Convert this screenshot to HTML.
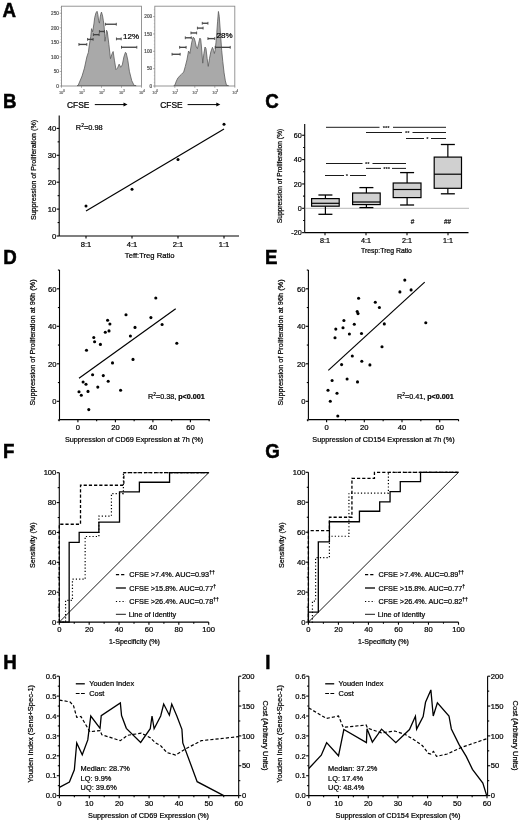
<!DOCTYPE html>
<html><head><meta charset="utf-8"><title>Figure</title>
<style>
html,body{margin:0;padding:0;background:#fff;}
body{width:520px;height:821px;overflow:hidden;}
svg{display:block;font-family:"Liberation Sans", sans-serif;will-change:transform;}
</style></head><body>
<svg width="520" height="821" viewBox="0 0 520 821">
<rect width="520" height="821" fill="#fff"/>
<text x="2.5" y="15.79" font-size="18.7" text-anchor="start" font-weight="bold" fill="#000" transform="translate(0 0) scale(1 1.07)" stroke="#000" stroke-width="0.5">A</text>
<text x="2.95" y="100.75" font-size="18.7" text-anchor="start" font-weight="bold" fill="#000" transform="translate(0 0) scale(1 1.07)" stroke="#000" stroke-width="0.5">B</text>
<text x="265.25" y="100.84" font-size="18.7" text-anchor="start" font-weight="bold" fill="#000" transform="translate(0 0) scale(1 1.07)" stroke="#000" stroke-width="0.5">C</text>
<text x="3.2" y="246.54" font-size="18.7" text-anchor="start" font-weight="bold" fill="#000" transform="translate(0 0) scale(1 1.07)" stroke="#000" stroke-width="0.5">D</text>
<text x="265" y="246.54" font-size="18.7" text-anchor="start" font-weight="bold" fill="#000" transform="translate(0 0) scale(1 1.07)" stroke="#000" stroke-width="0.5">E</text>
<text x="2.95" y="428.41" font-size="18.7" text-anchor="start" font-weight="bold" fill="#000" transform="translate(0 0) scale(1 1.07)" stroke="#000" stroke-width="0.5">F</text>
<text x="265.25" y="428.41" font-size="18.7" text-anchor="start" font-weight="bold" fill="#000" transform="translate(0 0) scale(1 1.07)" stroke="#000" stroke-width="0.5">G</text>
<text x="3.2" y="625.14" font-size="18.7" text-anchor="start" font-weight="bold" fill="#000" transform="translate(0 0) scale(1 1.07)" stroke="#000" stroke-width="0.5">H</text>
<text x="265.2" y="625.14" font-size="18.7" text-anchor="start" font-weight="bold" fill="#000" transform="translate(0 0) scale(1 1.07)" stroke="#000" stroke-width="0.5">I</text>
<rect x="61.5" y="6.2" width="80" height="79.8" fill="#fff" stroke="#8a8a8a" stroke-width="0.9"/>
<polygon points="77.14,85.6 78.14,85.43 82.08,75.97 84.44,68.08 86.81,57.04 88.39,52.31 89.18,46 90.75,36.54 91.54,28.66 92.64,31.81 93.91,23.92 94.69,17.62 95.96,12.89 97.06,11.31 97.85,14.46 98.64,20.77 99.43,23.14 100.37,16.04 100.69,14.46 101.48,12.1 102.58,16.04 103.37,20.77 104.16,27.08 104.95,41.27 105.73,36.54 106.52,30.23 107.31,31.81 108.89,44.43 110.47,58.62 112.04,53.89 113.15,51.52 114.41,60.2 115.98,69.66 117.56,68.08 119.14,64.14 120.72,67.29 122.29,64.93 123.87,57.04 125.45,52.31 126.24,53.1 127.81,60.2 129.39,71.24 131.76,80.7 134.12,85.43 136.12,85.6" fill="#a9a9a9" stroke="#5a5a5a" stroke-width="0.8" stroke-linejoin="miter"/>
<line x1="59.7" y1="86" x2="61.5" y2="86" stroke="#777" stroke-width="0.6"/>
<text x="58.9" y="87.7" font-size="4.7" text-anchor="end" font-weight="normal" fill="#555" transform="translate(0 0) scale(1 1)" stroke="#555" stroke-width="0.22">0</text>
<line x1="60.5" y1="83.09" x2="61.5" y2="83.09" stroke="#999" stroke-width="0.5"/>
<line x1="60.5" y1="80.18" x2="61.5" y2="80.18" stroke="#999" stroke-width="0.5"/>
<line x1="60.5" y1="77.27" x2="61.5" y2="77.27" stroke="#999" stroke-width="0.5"/>
<line x1="60.5" y1="74.36" x2="61.5" y2="74.36" stroke="#999" stroke-width="0.5"/>
<line x1="59.7" y1="71.45" x2="61.5" y2="71.45" stroke="#777" stroke-width="0.6"/>
<text x="58.9" y="73.15" font-size="4.7" text-anchor="end" font-weight="normal" fill="#555" transform="translate(0 0) scale(1 1)" stroke="#555" stroke-width="0.22">50</text>
<line x1="60.5" y1="68.54" x2="61.5" y2="68.54" stroke="#999" stroke-width="0.5"/>
<line x1="60.5" y1="65.63" x2="61.5" y2="65.63" stroke="#999" stroke-width="0.5"/>
<line x1="60.5" y1="62.72" x2="61.5" y2="62.72" stroke="#999" stroke-width="0.5"/>
<line x1="60.5" y1="59.81" x2="61.5" y2="59.81" stroke="#999" stroke-width="0.5"/>
<line x1="59.7" y1="56.9" x2="61.5" y2="56.9" stroke="#777" stroke-width="0.6"/>
<text x="58.9" y="58.6" font-size="4.7" text-anchor="end" font-weight="normal" fill="#555" transform="translate(0 0) scale(1 1)" stroke="#555" stroke-width="0.22">100</text>
<line x1="60.5" y1="53.99" x2="61.5" y2="53.99" stroke="#999" stroke-width="0.5"/>
<line x1="60.5" y1="51.08" x2="61.5" y2="51.08" stroke="#999" stroke-width="0.5"/>
<line x1="60.5" y1="48.17" x2="61.5" y2="48.17" stroke="#999" stroke-width="0.5"/>
<line x1="60.5" y1="45.26" x2="61.5" y2="45.26" stroke="#999" stroke-width="0.5"/>
<line x1="59.7" y1="42.35" x2="61.5" y2="42.35" stroke="#777" stroke-width="0.6"/>
<text x="58.9" y="44.05" font-size="4.7" text-anchor="end" font-weight="normal" fill="#555" transform="translate(0 0) scale(1 1)" stroke="#555" stroke-width="0.22">150</text>
<line x1="60.5" y1="39.44" x2="61.5" y2="39.44" stroke="#999" stroke-width="0.5"/>
<line x1="60.5" y1="36.53" x2="61.5" y2="36.53" stroke="#999" stroke-width="0.5"/>
<line x1="60.5" y1="33.62" x2="61.5" y2="33.62" stroke="#999" stroke-width="0.5"/>
<line x1="60.5" y1="30.71" x2="61.5" y2="30.71" stroke="#999" stroke-width="0.5"/>
<line x1="59.7" y1="27.8" x2="61.5" y2="27.8" stroke="#777" stroke-width="0.6"/>
<text x="58.9" y="29.5" font-size="4.7" text-anchor="end" font-weight="normal" fill="#555" transform="translate(0 0) scale(1 1)" stroke="#555" stroke-width="0.22">200</text>
<line x1="60.5" y1="24.89" x2="61.5" y2="24.89" stroke="#999" stroke-width="0.5"/>
<line x1="60.5" y1="21.98" x2="61.5" y2="21.98" stroke="#999" stroke-width="0.5"/>
<line x1="60.5" y1="19.07" x2="61.5" y2="19.07" stroke="#999" stroke-width="0.5"/>
<line x1="60.5" y1="16.16" x2="61.5" y2="16.16" stroke="#999" stroke-width="0.5"/>
<line x1="59.7" y1="13.25" x2="61.5" y2="13.25" stroke="#777" stroke-width="0.6"/>
<text x="58.9" y="14.95" font-size="4.7" text-anchor="end" font-weight="normal" fill="#555" transform="translate(0 0) scale(1 1)" stroke="#555" stroke-width="0.22">250</text>
<line x1="60.5" y1="10.34" x2="61.5" y2="10.34" stroke="#999" stroke-width="0.5"/>
<line x1="60.5" y1="7.43" x2="61.5" y2="7.43" stroke="#999" stroke-width="0.5"/>
<line x1="61.5" y1="86" x2="61.5" y2="87.8" stroke="#777" stroke-width="0.6"/>
<text x="58.9" y="93.6" font-size="4" text-anchor="start" font-weight="normal" fill="#777" transform="translate(0 0) scale(1 1)" stroke="#777" stroke-width="0.22">10</text>
<text x="63.2" y="91.9" font-size="2.8" text-anchor="start" font-weight="normal" fill="#777" transform="translate(0 0) scale(1 1)" stroke="#777" stroke-width="0.22">0</text>
<line x1="81.5" y1="86" x2="81.5" y2="87.8" stroke="#777" stroke-width="0.6"/>
<text x="78.9" y="93.6" font-size="4" text-anchor="start" font-weight="normal" fill="#777" transform="translate(0 0) scale(1 1)" stroke="#777" stroke-width="0.22">10</text>
<text x="83.2" y="91.9" font-size="2.8" text-anchor="start" font-weight="normal" fill="#777" transform="translate(0 0) scale(1 1)" stroke="#777" stroke-width="0.22">1</text>
<line x1="101.5" y1="86" x2="101.5" y2="87.8" stroke="#777" stroke-width="0.6"/>
<text x="98.9" y="93.6" font-size="4" text-anchor="start" font-weight="normal" fill="#777" transform="translate(0 0) scale(1 1)" stroke="#777" stroke-width="0.22">10</text>
<text x="103.2" y="91.9" font-size="2.8" text-anchor="start" font-weight="normal" fill="#777" transform="translate(0 0) scale(1 1)" stroke="#777" stroke-width="0.22">2</text>
<line x1="121.5" y1="86" x2="121.5" y2="87.8" stroke="#777" stroke-width="0.6"/>
<text x="118.9" y="93.6" font-size="4" text-anchor="start" font-weight="normal" fill="#777" transform="translate(0 0) scale(1 1)" stroke="#777" stroke-width="0.22">10</text>
<text x="123.2" y="91.9" font-size="2.8" text-anchor="start" font-weight="normal" fill="#777" transform="translate(0 0) scale(1 1)" stroke="#777" stroke-width="0.22">3</text>
<line x1="141.5" y1="86" x2="141.5" y2="87.8" stroke="#777" stroke-width="0.6"/>
<text x="138.9" y="93.6" font-size="4" text-anchor="start" font-weight="normal" fill="#777" transform="translate(0 0) scale(1 1)" stroke="#777" stroke-width="0.22">10</text>
<text x="143.2" y="91.9" font-size="2.8" text-anchor="start" font-weight="normal" fill="#777" transform="translate(0 0) scale(1 1)" stroke="#777" stroke-width="0.22">4</text>
<line x1="78.92" y1="44.43" x2="86.81" y2="44.43" stroke="#444" stroke-width="1.35"/>
<line x1="78.92" y1="43.03" x2="78.92" y2="45.83" stroke="#444" stroke-width="0.9"/>
<line x1="86.81" y1="43.03" x2="86.81" y2="45.83" stroke="#444" stroke-width="0.9"/>
<line x1="87.6" y1="39.38" x2="93.12" y2="39.38" stroke="#444" stroke-width="1.35"/>
<line x1="87.6" y1="37.98" x2="87.6" y2="40.78" stroke="#444" stroke-width="0.9"/>
<line x1="93.12" y1="37.98" x2="93.12" y2="40.78" stroke="#444" stroke-width="0.9"/>
<line x1="93.43" y1="34.65" x2="99.11" y2="34.65" stroke="#444" stroke-width="1.35"/>
<line x1="93.43" y1="33.25" x2="93.43" y2="36.05" stroke="#444" stroke-width="0.9"/>
<line x1="99.11" y1="33.25" x2="99.11" y2="36.05" stroke="#444" stroke-width="0.9"/>
<line x1="99.43" y1="31.49" x2="104.47" y2="31.49" stroke="#444" stroke-width="1.35"/>
<line x1="99.43" y1="30.09" x2="99.43" y2="32.89" stroke="#444" stroke-width="0.9"/>
<line x1="104.47" y1="30.09" x2="104.47" y2="32.89" stroke="#444" stroke-width="0.9"/>
<line x1="105.42" y1="24.24" x2="116.3" y2="24.24" stroke="#444" stroke-width="1.35"/>
<line x1="105.42" y1="22.84" x2="105.42" y2="25.64" stroke="#444" stroke-width="0.9"/>
<line x1="116.3" y1="22.84" x2="116.3" y2="25.64" stroke="#444" stroke-width="0.9"/>
<line x1="116.46" y1="38.91" x2="121.19" y2="38.91" stroke="#444" stroke-width="1.35"/>
<line x1="116.46" y1="37.51" x2="116.46" y2="40.31" stroke="#444" stroke-width="0.9"/>
<line x1="121.19" y1="37.51" x2="121.19" y2="40.31" stroke="#444" stroke-width="0.9"/>
<line x1="121.5" y1="47.26" x2="136.8" y2="47.26" stroke="#444" stroke-width="1.35"/>
<line x1="121.5" y1="45.86" x2="121.5" y2="48.66" stroke="#444" stroke-width="0.9"/>
<line x1="136.8" y1="45.86" x2="136.8" y2="48.66" stroke="#444" stroke-width="0.9"/>
<text x="123.1" y="38.6" font-size="8" text-anchor="start" font-weight="normal" fill="#000" transform="translate(0 0) scale(1 1)" stroke="#000" stroke-width="0.22">12%</text>
<rect x="154.8" y="6.2" width="80" height="79.8" fill="#fff" stroke="#8a8a8a" stroke-width="0.9"/>
<polygon points="173.81,85.6 174.81,85.29 176.42,80.93 178.04,77.7 181.27,74.47 183.69,72.04 185.31,66.39 186.93,59.93 188.54,51.04 189.83,53.47 190.96,47 191.77,42.16 193.06,37.31 194.2,38.12 195.33,42.16 196.3,47 197.43,48.62 198.56,43.77 199.85,38.12 200.66,38.93 201.47,47 202.76,63.16 203.89,53.47 205.02,47 205.99,48.62 207.12,58.31 208.25,66.39 209.54,58.31 210.84,51.85 212.45,47.33 213.58,50.23 214.39,53.47 215.2,50.23 216,42.16 216.81,32.46 217.62,21.16 218.43,11.46 219.24,16.31 220.53,34.08 221.66,50.23 222.79,61.54 224.08,72.85 225.37,80.93 226.51,85.29 228.51,85.6" fill="#a9a9a9" stroke="#5a5a5a" stroke-width="0.8" stroke-linejoin="miter"/>
<line x1="153" y1="86" x2="154.8" y2="86" stroke="#777" stroke-width="0.6"/>
<text x="152.2" y="87.7" font-size="4.7" text-anchor="end" font-weight="normal" fill="#555" transform="translate(0 0) scale(1 1)" stroke="#555" stroke-width="0.22">0</text>
<line x1="153.8" y1="82.53" x2="154.8" y2="82.53" stroke="#999" stroke-width="0.5"/>
<line x1="153.8" y1="79.06" x2="154.8" y2="79.06" stroke="#999" stroke-width="0.5"/>
<line x1="153.8" y1="75.59" x2="154.8" y2="75.59" stroke="#999" stroke-width="0.5"/>
<line x1="153.8" y1="72.12" x2="154.8" y2="72.12" stroke="#999" stroke-width="0.5"/>
<line x1="153" y1="68.65" x2="154.8" y2="68.65" stroke="#777" stroke-width="0.6"/>
<text x="152.2" y="70.35" font-size="4.7" text-anchor="end" font-weight="normal" fill="#555" transform="translate(0 0) scale(1 1)" stroke="#555" stroke-width="0.22">50</text>
<line x1="153.8" y1="65.18" x2="154.8" y2="65.18" stroke="#999" stroke-width="0.5"/>
<line x1="153.8" y1="61.71" x2="154.8" y2="61.71" stroke="#999" stroke-width="0.5"/>
<line x1="153.8" y1="58.24" x2="154.8" y2="58.24" stroke="#999" stroke-width="0.5"/>
<line x1="153.8" y1="54.77" x2="154.8" y2="54.77" stroke="#999" stroke-width="0.5"/>
<line x1="153" y1="51.3" x2="154.8" y2="51.3" stroke="#777" stroke-width="0.6"/>
<text x="152.2" y="53" font-size="4.7" text-anchor="end" font-weight="normal" fill="#555" transform="translate(0 0) scale(1 1)" stroke="#555" stroke-width="0.22">100</text>
<line x1="153.8" y1="47.83" x2="154.8" y2="47.83" stroke="#999" stroke-width="0.5"/>
<line x1="153.8" y1="44.36" x2="154.8" y2="44.36" stroke="#999" stroke-width="0.5"/>
<line x1="153.8" y1="40.89" x2="154.8" y2="40.89" stroke="#999" stroke-width="0.5"/>
<line x1="153.8" y1="37.42" x2="154.8" y2="37.42" stroke="#999" stroke-width="0.5"/>
<line x1="153" y1="33.95" x2="154.8" y2="33.95" stroke="#777" stroke-width="0.6"/>
<text x="152.2" y="35.65" font-size="4.7" text-anchor="end" font-weight="normal" fill="#555" transform="translate(0 0) scale(1 1)" stroke="#555" stroke-width="0.22">150</text>
<line x1="153.8" y1="30.48" x2="154.8" y2="30.48" stroke="#999" stroke-width="0.5"/>
<line x1="153.8" y1="27.01" x2="154.8" y2="27.01" stroke="#999" stroke-width="0.5"/>
<line x1="153.8" y1="23.54" x2="154.8" y2="23.54" stroke="#999" stroke-width="0.5"/>
<line x1="153.8" y1="20.07" x2="154.8" y2="20.07" stroke="#999" stroke-width="0.5"/>
<line x1="153" y1="16.6" x2="154.8" y2="16.6" stroke="#777" stroke-width="0.6"/>
<text x="152.2" y="18.3" font-size="4.7" text-anchor="end" font-weight="normal" fill="#555" transform="translate(0 0) scale(1 1)" stroke="#555" stroke-width="0.22">200</text>
<line x1="153.8" y1="13.13" x2="154.8" y2="13.13" stroke="#999" stroke-width="0.5"/>
<line x1="153.8" y1="9.66" x2="154.8" y2="9.66" stroke="#999" stroke-width="0.5"/>
<line x1="154.8" y1="86" x2="154.8" y2="87.8" stroke="#777" stroke-width="0.6"/>
<text x="152.2" y="93.6" font-size="4" text-anchor="start" font-weight="normal" fill="#777" transform="translate(0 0) scale(1 1)" stroke="#777" stroke-width="0.22">10</text>
<text x="156.5" y="91.9" font-size="2.8" text-anchor="start" font-weight="normal" fill="#777" transform="translate(0 0) scale(1 1)" stroke="#777" stroke-width="0.22">0</text>
<line x1="174.8" y1="86" x2="174.8" y2="87.8" stroke="#777" stroke-width="0.6"/>
<text x="172.2" y="93.6" font-size="4" text-anchor="start" font-weight="normal" fill="#777" transform="translate(0 0) scale(1 1)" stroke="#777" stroke-width="0.22">10</text>
<text x="176.5" y="91.9" font-size="2.8" text-anchor="start" font-weight="normal" fill="#777" transform="translate(0 0) scale(1 1)" stroke="#777" stroke-width="0.22">1</text>
<line x1="194.8" y1="86" x2="194.8" y2="87.8" stroke="#777" stroke-width="0.6"/>
<text x="192.2" y="93.6" font-size="4" text-anchor="start" font-weight="normal" fill="#777" transform="translate(0 0) scale(1 1)" stroke="#777" stroke-width="0.22">10</text>
<text x="196.5" y="91.9" font-size="2.8" text-anchor="start" font-weight="normal" fill="#777" transform="translate(0 0) scale(1 1)" stroke="#777" stroke-width="0.22">2</text>
<line x1="214.8" y1="86" x2="214.8" y2="87.8" stroke="#777" stroke-width="0.6"/>
<text x="212.2" y="93.6" font-size="4" text-anchor="start" font-weight="normal" fill="#777" transform="translate(0 0) scale(1 1)" stroke="#777" stroke-width="0.22">10</text>
<text x="216.5" y="91.9" font-size="2.8" text-anchor="start" font-weight="normal" fill="#777" transform="translate(0 0) scale(1 1)" stroke="#777" stroke-width="0.22">3</text>
<line x1="234.8" y1="86" x2="234.8" y2="87.8" stroke="#777" stroke-width="0.6"/>
<text x="232.2" y="93.6" font-size="4" text-anchor="start" font-weight="normal" fill="#777" transform="translate(0 0) scale(1 1)" stroke="#777" stroke-width="0.22">10</text>
<text x="236.5" y="91.9" font-size="2.8" text-anchor="start" font-weight="normal" fill="#777" transform="translate(0 0) scale(1 1)" stroke="#777" stroke-width="0.22">4</text>
<line x1="172.06" y1="54.27" x2="180.14" y2="54.27" stroke="#444" stroke-width="1.35"/>
<line x1="172.06" y1="52.87" x2="172.06" y2="55.67" stroke="#444" stroke-width="0.9"/>
<line x1="180.14" y1="52.87" x2="180.14" y2="55.67" stroke="#444" stroke-width="0.9"/>
<line x1="179.66" y1="47.33" x2="186.12" y2="47.33" stroke="#444" stroke-width="1.35"/>
<line x1="179.66" y1="45.93" x2="179.66" y2="48.73" stroke="#444" stroke-width="0.9"/>
<line x1="186.12" y1="45.93" x2="186.12" y2="48.73" stroke="#444" stroke-width="0.9"/>
<line x1="185.31" y1="37.79" x2="191.29" y2="37.79" stroke="#444" stroke-width="1.35"/>
<line x1="185.31" y1="36.39" x2="185.31" y2="39.19" stroke="#444" stroke-width="0.9"/>
<line x1="191.29" y1="36.39" x2="191.29" y2="39.19" stroke="#444" stroke-width="0.9"/>
<line x1="190.96" y1="32.95" x2="196.62" y2="32.95" stroke="#444" stroke-width="1.35"/>
<line x1="190.96" y1="31.55" x2="190.96" y2="34.35" stroke="#444" stroke-width="0.9"/>
<line x1="196.62" y1="31.55" x2="196.62" y2="34.35" stroke="#444" stroke-width="0.9"/>
<line x1="197.43" y1="28.1" x2="203.08" y2="28.1" stroke="#444" stroke-width="1.35"/>
<line x1="197.43" y1="26.7" x2="197.43" y2="29.5" stroke="#444" stroke-width="0.9"/>
<line x1="203.08" y1="26.7" x2="203.08" y2="29.5" stroke="#444" stroke-width="0.9"/>
<line x1="202.27" y1="23.26" x2="207.93" y2="23.26" stroke="#444" stroke-width="1.35"/>
<line x1="202.27" y1="21.86" x2="202.27" y2="24.66" stroke="#444" stroke-width="0.9"/>
<line x1="207.93" y1="21.86" x2="207.93" y2="24.66" stroke="#444" stroke-width="0.9"/>
<line x1="207.93" y1="38.6" x2="214.71" y2="38.6" stroke="#444" stroke-width="1.35"/>
<line x1="207.93" y1="37.2" x2="207.93" y2="40" stroke="#444" stroke-width="0.9"/>
<line x1="214.71" y1="37.2" x2="214.71" y2="40" stroke="#444" stroke-width="0.9"/>
<line x1="215.2" y1="47.33" x2="230.22" y2="47.33" stroke="#444" stroke-width="1.35"/>
<line x1="215.2" y1="45.93" x2="215.2" y2="48.73" stroke="#444" stroke-width="0.9"/>
<line x1="230.22" y1="45.93" x2="230.22" y2="48.73" stroke="#444" stroke-width="0.9"/>
<text x="216.5" y="38.4" font-size="8" text-anchor="start" font-weight="normal" fill="#000" transform="translate(0 0) scale(1 1)" stroke="#000" stroke-width="0.22">28%</text>
<text x="67" y="96.43" font-size="8.4" text-anchor="start" font-weight="normal" fill="#000" transform="translate(0 0) scale(1 1.12)" stroke="#000" stroke-width="0.22">CFSE</text>
<line x1="94.8" y1="104.6" x2="124.5" y2="104.6" stroke="#000" stroke-width="1"/>
<polygon points="123.5,102.6 127.5,104.6 123.5,106.6" fill="#000" stroke="none" stroke-width="0" stroke-linejoin="miter"/>
<text x="160.3" y="96.43" font-size="8.4" text-anchor="start" font-weight="normal" fill="#000" transform="translate(0 0) scale(1 1.12)" stroke="#000" stroke-width="0.22">CFSE</text>
<line x1="187.6" y1="104.6" x2="217.3" y2="104.6" stroke="#000" stroke-width="1"/>
<polygon points="216.3,102.6 220.3,104.6 216.3,106.6" fill="#000" stroke="none" stroke-width="0" stroke-linejoin="miter"/>
<line x1="59.2" y1="115.5" x2="59.2" y2="236" stroke="#000" stroke-width="1.1"/>
<line x1="59.2" y1="236" x2="56.6" y2="236" stroke="#000" stroke-width="1.1"/>
<text x="56.2" y="238.7" font-size="7.6" text-anchor="end" font-weight="normal" fill="#000" transform="translate(0 0) scale(1 1)" stroke="#000" stroke-width="0.22">0</text>
<line x1="59.2" y1="209.1" x2="56.6" y2="209.1" stroke="#000" stroke-width="1.1"/>
<text x="56.2" y="211.8" font-size="7.6" text-anchor="end" font-weight="normal" fill="#000" transform="translate(0 0) scale(1 1)" stroke="#000" stroke-width="0.22">10</text>
<line x1="59.2" y1="182.2" x2="56.6" y2="182.2" stroke="#000" stroke-width="1.1"/>
<text x="56.2" y="184.9" font-size="7.6" text-anchor="end" font-weight="normal" fill="#000" transform="translate(0 0) scale(1 1)" stroke="#000" stroke-width="0.22">20</text>
<line x1="59.2" y1="155.3" x2="56.6" y2="155.3" stroke="#000" stroke-width="1.1"/>
<text x="56.2" y="158" font-size="7.6" text-anchor="end" font-weight="normal" fill="#000" transform="translate(0 0) scale(1 1)" stroke="#000" stroke-width="0.22">30</text>
<line x1="59.2" y1="128.4" x2="56.6" y2="128.4" stroke="#000" stroke-width="1.1"/>
<text x="56.2" y="131.1" font-size="7.6" text-anchor="end" font-weight="normal" fill="#000" transform="translate(0 0) scale(1 1)" stroke="#000" stroke-width="0.22">40</text>
<line x1="59.2" y1="222.55" x2="57.6" y2="222.55" stroke="#000" stroke-width="1.1"/>
<line x1="59.2" y1="195.65" x2="57.6" y2="195.65" stroke="#000" stroke-width="1.1"/>
<line x1="59.2" y1="168.75" x2="57.6" y2="168.75" stroke="#000" stroke-width="1.1"/>
<line x1="59.2" y1="141.85" x2="57.6" y2="141.85" stroke="#000" stroke-width="1.1"/>
<line x1="59.2" y1="236" x2="239" y2="236" stroke="#000" stroke-width="1.1"/>
<line x1="86" y1="236" x2="86" y2="238.6" stroke="#000" stroke-width="1.1"/>
<text x="86" y="247.3" font-size="7.6" text-anchor="middle" font-weight="normal" fill="#000" transform="translate(0 0) scale(1 1)" stroke="#000" stroke-width="0.22">8:1</text>
<line x1="132" y1="236" x2="132" y2="238.6" stroke="#000" stroke-width="1.1"/>
<text x="132" y="247.3" font-size="7.6" text-anchor="middle" font-weight="normal" fill="#000" transform="translate(0 0) scale(1 1)" stroke="#000" stroke-width="0.22">4:1</text>
<line x1="178" y1="236" x2="178" y2="238.6" stroke="#000" stroke-width="1.1"/>
<text x="178" y="247.3" font-size="7.6" text-anchor="middle" font-weight="normal" fill="#000" transform="translate(0 0) scale(1 1)" stroke="#000" stroke-width="0.22">2:1</text>
<line x1="224" y1="236" x2="224" y2="238.6" stroke="#000" stroke-width="1.1"/>
<text x="224" y="247.3" font-size="7.6" text-anchor="middle" font-weight="normal" fill="#000" transform="translate(0 0) scale(1 1)" stroke="#000" stroke-width="0.22">1:1</text>
<line x1="86" y1="211" x2="224" y2="129" stroke="#000" stroke-width="1.2"/>
<circle cx="86" cy="206" r="1.5" fill="#000"/>
<circle cx="132" cy="189.2" r="1.5" fill="#000"/>
<circle cx="178" cy="159.6" r="1.5" fill="#000"/>
<circle cx="224" cy="124.2" r="1.5" fill="#000"/>
<text x="75.8" y="130" font-size="7.4" text-anchor="start" font-weight="normal" fill="#000" transform="translate(0 0) scale(1 1)" stroke="#000" stroke-width="0.22">R<tspan font-size="5" dy="-2.6">2</tspan><tspan dy="2.6">=0.98</tspan></text>
<text x="149.7" y="258.2" font-size="7.65" text-anchor="middle" font-weight="normal" fill="#000" transform="translate(0 0) scale(1 1)" stroke="#000" stroke-width="0.22">Teff:Treg Ratio</text>
<text x="0" y="0" font-size="7.1" text-anchor="middle" font-weight="normal" fill="#000" transform="translate(36 170) rotate(-90) scale(1 1)" stroke="#000" stroke-width="0.22">Suppression of Proliferation (%)</text>
<line x1="304.7" y1="124.1" x2="304.7" y2="232.6" stroke="#000" stroke-width="1.1"/>
<line x1="304.7" y1="232.65" x2="302.1" y2="232.65" stroke="#000" stroke-width="1.1"/>
<text x="301.7" y="235.35" font-size="7.2" text-anchor="end" font-weight="normal" fill="#000" transform="translate(0 0) scale(1 1)" stroke="#000" stroke-width="0.22">-20</text>
<line x1="304.7" y1="208.3" x2="302.1" y2="208.3" stroke="#000" stroke-width="1.1"/>
<text x="301.7" y="211" font-size="7.2" text-anchor="end" font-weight="normal" fill="#000" transform="translate(0 0) scale(1 1)" stroke="#000" stroke-width="0.22">0</text>
<line x1="304.7" y1="183.95" x2="302.1" y2="183.95" stroke="#000" stroke-width="1.1"/>
<text x="301.7" y="186.65" font-size="7.2" text-anchor="end" font-weight="normal" fill="#000" transform="translate(0 0) scale(1 1)" stroke="#000" stroke-width="0.22">20</text>
<line x1="304.7" y1="159.6" x2="302.1" y2="159.6" stroke="#000" stroke-width="1.1"/>
<text x="301.7" y="162.3" font-size="7.2" text-anchor="end" font-weight="normal" fill="#000" transform="translate(0 0) scale(1 1)" stroke="#000" stroke-width="0.22">40</text>
<line x1="304.7" y1="135.25" x2="302.1" y2="135.25" stroke="#000" stroke-width="1.1"/>
<text x="301.7" y="137.95" font-size="7.2" text-anchor="end" font-weight="normal" fill="#000" transform="translate(0 0) scale(1 1)" stroke="#000" stroke-width="0.22">60</text>
<line x1="304.7" y1="220.48" x2="303.1" y2="220.48" stroke="#000" stroke-width="1.1"/>
<line x1="304.7" y1="196.12" x2="303.1" y2="196.12" stroke="#000" stroke-width="1.1"/>
<line x1="304.7" y1="171.78" x2="303.1" y2="171.78" stroke="#000" stroke-width="1.1"/>
<line x1="304.7" y1="147.43" x2="303.1" y2="147.43" stroke="#000" stroke-width="1.1"/>
<line x1="304.7" y1="208.3" x2="469" y2="208.3" stroke="#999" stroke-width="0.7"/>
<line x1="304.7" y1="232.6" x2="468.5" y2="232.6" stroke="#000" stroke-width="1.1"/>
<line x1="325" y1="232.6" x2="325" y2="235.2" stroke="#000" stroke-width="1.1"/>
<text x="325" y="242.6" font-size="7.2" text-anchor="middle" font-weight="normal" fill="#000" transform="translate(0 0) scale(1 1)" stroke="#000" stroke-width="0.22">8:1</text>
<line x1="366" y1="232.6" x2="366" y2="235.2" stroke="#000" stroke-width="1.1"/>
<text x="366" y="242.6" font-size="7.2" text-anchor="middle" font-weight="normal" fill="#000" transform="translate(0 0) scale(1 1)" stroke="#000" stroke-width="0.22">4:1</text>
<line x1="407" y1="232.6" x2="407" y2="235.2" stroke="#000" stroke-width="1.1"/>
<text x="407" y="242.6" font-size="7.2" text-anchor="middle" font-weight="normal" fill="#000" transform="translate(0 0) scale(1 1)" stroke="#000" stroke-width="0.22">2:1</text>
<line x1="448" y1="232.6" x2="448" y2="235.2" stroke="#000" stroke-width="1.1"/>
<text x="448" y="242.6" font-size="7.2" text-anchor="middle" font-weight="normal" fill="#000" transform="translate(0 0) scale(1 1)" stroke="#000" stroke-width="0.22">1:1</text>
<line x1="325.4" y1="195" x2="325.4" y2="198.6" stroke="#000" stroke-width="1.2"/>
<line x1="325.4" y1="206.2" x2="325.4" y2="214.3" stroke="#000" stroke-width="1.2"/>
<line x1="318.4" y1="195" x2="332.4" y2="195" stroke="#000" stroke-width="1.3"/>
<line x1="318.4" y1="214.3" x2="332.4" y2="214.3" stroke="#000" stroke-width="1.3"/>
<rect x="311.6" y="198.6" width="27.6" height="7.6" fill="#d0d0d0" stroke="#000" stroke-width="1.2"/>
<line x1="311.6" y1="203.3" x2="339.2" y2="203.3" stroke="#000" stroke-width="1.2"/>
<line x1="366.4" y1="187.6" x2="366.4" y2="193" stroke="#000" stroke-width="1.2"/>
<line x1="366.4" y1="204.6" x2="366.4" y2="207.6" stroke="#000" stroke-width="1.2"/>
<line x1="359.4" y1="187.6" x2="373.4" y2="187.6" stroke="#000" stroke-width="1.3"/>
<line x1="359.4" y1="207.6" x2="373.4" y2="207.6" stroke="#000" stroke-width="1.3"/>
<rect x="352.6" y="193" width="27.6" height="11.6" fill="#d0d0d0" stroke="#000" stroke-width="1.2"/>
<line x1="352.6" y1="202" x2="380.2" y2="202" stroke="#000" stroke-width="1.2"/>
<line x1="407.1" y1="172.6" x2="407.1" y2="183" stroke="#000" stroke-width="1.2"/>
<line x1="407.1" y1="197.6" x2="407.1" y2="205" stroke="#000" stroke-width="1.2"/>
<line x1="400.1" y1="172.6" x2="414.1" y2="172.6" stroke="#000" stroke-width="1.3"/>
<line x1="400.1" y1="205" x2="414.1" y2="205" stroke="#000" stroke-width="1.3"/>
<rect x="393.2" y="183" width="27.8" height="14.6" fill="#d0d0d0" stroke="#000" stroke-width="1.2"/>
<line x1="393.2" y1="189.5" x2="421" y2="189.5" stroke="#000" stroke-width="1.2"/>
<line x1="447.85" y1="144.5" x2="447.85" y2="157.1" stroke="#000" stroke-width="1.2"/>
<line x1="447.85" y1="188.3" x2="447.85" y2="193.8" stroke="#000" stroke-width="1.2"/>
<line x1="440.85" y1="144.5" x2="454.85" y2="144.5" stroke="#000" stroke-width="1.3"/>
<line x1="440.85" y1="193.8" x2="454.85" y2="193.8" stroke="#000" stroke-width="1.3"/>
<rect x="434.2" y="157.1" width="27.3" height="31.2" fill="#d0d0d0" stroke="#000" stroke-width="1.2"/>
<line x1="434.2" y1="174.2" x2="461.5" y2="174.2" stroke="#000" stroke-width="1.2"/>
<line x1="326" y1="127.3" x2="379.5" y2="127.3" stroke="#000" stroke-width="0.9"/>
<line x1="393" y1="127.3" x2="446" y2="127.3" stroke="#000" stroke-width="0.9"/>
<text x="386.2" y="130" font-size="5.9" text-anchor="middle" font-weight="bold" fill="#000" transform="translate(0 0) scale(1 1)">***</text>
<line x1="366" y1="132.5" x2="402" y2="132.5" stroke="#000" stroke-width="0.9"/>
<line x1="412.5" y1="132.5" x2="446" y2="132.5" stroke="#000" stroke-width="0.9"/>
<text x="407.2" y="135.2" font-size="5.9" text-anchor="middle" font-weight="bold" fill="#000" transform="translate(0 0) scale(1 1)">**</text>
<line x1="406" y1="138.5" x2="424" y2="138.5" stroke="#000" stroke-width="0.9"/>
<line x1="431" y1="138.5" x2="446" y2="138.5" stroke="#000" stroke-width="0.9"/>
<text x="427.5" y="141.2" font-size="5.9" text-anchor="middle" font-weight="bold" fill="#000" transform="translate(0 0) scale(1 1)">*</text>
<line x1="326" y1="163.5" x2="362.5" y2="163.5" stroke="#000" stroke-width="0.9"/>
<line x1="372.5" y1="163.5" x2="406" y2="163.5" stroke="#000" stroke-width="0.9"/>
<text x="367.3" y="166.2" font-size="5.9" text-anchor="middle" font-weight="bold" fill="#000" transform="translate(0 0) scale(1 1)">**</text>
<line x1="366" y1="168.4" x2="381" y2="168.4" stroke="#000" stroke-width="0.9"/>
<line x1="392" y1="168.4" x2="406" y2="168.4" stroke="#000" stroke-width="0.9"/>
<text x="386.6" y="171.1" font-size="5.9" text-anchor="middle" font-weight="bold" fill="#000" transform="translate(0 0) scale(1 1)">***</text>
<line x1="325" y1="175.5" x2="344" y2="175.5" stroke="#000" stroke-width="0.9"/>
<line x1="350" y1="175.5" x2="366" y2="175.5" stroke="#000" stroke-width="0.9"/>
<text x="347" y="178.2" font-size="5.9" text-anchor="middle" font-weight="bold" fill="#000" transform="translate(0 0) scale(1 1)">*</text>
<text x="412.5" y="223.5" font-size="6.4" text-anchor="middle" font-weight="normal" fill="#222" transform="translate(0 0) scale(1 1)" stroke="#222" stroke-width="0.22">#</text>
<text x="447.5" y="223.5" font-size="6.4" text-anchor="middle" font-weight="normal" fill="#222" transform="translate(0 0) scale(1 1)" stroke="#222" stroke-width="0.22">##</text>
<text x="386.5" y="253" font-size="6.85" text-anchor="middle" font-weight="normal" fill="#000" transform="translate(0 0) scale(1 1)" stroke="#000" stroke-width="0.22">Tresp:Treg Ratio</text>
<text x="0" y="0" font-size="6.7" text-anchor="middle" font-weight="normal" fill="#000" transform="translate(282.2 176.1) rotate(-90) scale(1 1)" stroke="#000" stroke-width="0.22">Suppression of Proliferation (%)</text>
<line x1="59.5" y1="270" x2="59.5" y2="419.6" stroke="#000" stroke-width="1.1"/>
<line x1="59.5" y1="401.3" x2="56.9" y2="401.3" stroke="#000" stroke-width="1.1"/>
<text x="56.5" y="404" font-size="7.6" text-anchor="end" font-weight="normal" fill="#000" transform="translate(0 0) scale(1 1)" stroke="#000" stroke-width="0.22">0</text>
<line x1="59.5" y1="363.8" x2="56.9" y2="363.8" stroke="#000" stroke-width="1.1"/>
<text x="56.5" y="366.5" font-size="7.6" text-anchor="end" font-weight="normal" fill="#000" transform="translate(0 0) scale(1 1)" stroke="#000" stroke-width="0.22">20</text>
<line x1="59.5" y1="326.3" x2="56.9" y2="326.3" stroke="#000" stroke-width="1.1"/>
<text x="56.5" y="329" font-size="7.6" text-anchor="end" font-weight="normal" fill="#000" transform="translate(0 0) scale(1 1)" stroke="#000" stroke-width="0.22">40</text>
<line x1="59.5" y1="288.8" x2="56.9" y2="288.8" stroke="#000" stroke-width="1.1"/>
<text x="56.5" y="291.5" font-size="7.6" text-anchor="end" font-weight="normal" fill="#000" transform="translate(0 0) scale(1 1)" stroke="#000" stroke-width="0.22">60</text>
<line x1="59.5" y1="420.05" x2="57.9" y2="420.05" stroke="#000" stroke-width="1.1"/>
<line x1="59.5" y1="382.55" x2="57.9" y2="382.55" stroke="#000" stroke-width="1.1"/>
<line x1="59.5" y1="345.05" x2="57.9" y2="345.05" stroke="#000" stroke-width="1.1"/>
<line x1="59.5" y1="307.55" x2="57.9" y2="307.55" stroke="#000" stroke-width="1.1"/>
<line x1="59.5" y1="270.05" x2="57.9" y2="270.05" stroke="#000" stroke-width="1.1"/>
<line x1="59.5" y1="419.6" x2="209.8" y2="419.6" stroke="#000" stroke-width="1.1"/>
<line x1="77.9" y1="419.6" x2="77.9" y2="422.2" stroke="#000" stroke-width="1.1"/>
<text x="77.9" y="430.4" font-size="7.6" text-anchor="middle" font-weight="normal" fill="#000" transform="translate(0 0) scale(1 1)" stroke="#000" stroke-width="0.22">0</text>
<line x1="115.4" y1="419.6" x2="115.4" y2="422.2" stroke="#000" stroke-width="1.1"/>
<text x="115.4" y="430.4" font-size="7.6" text-anchor="middle" font-weight="normal" fill="#000" transform="translate(0 0) scale(1 1)" stroke="#000" stroke-width="0.22">20</text>
<line x1="152.9" y1="419.6" x2="152.9" y2="422.2" stroke="#000" stroke-width="1.1"/>
<text x="152.9" y="430.4" font-size="7.6" text-anchor="middle" font-weight="normal" fill="#000" transform="translate(0 0) scale(1 1)" stroke="#000" stroke-width="0.22">40</text>
<line x1="190.4" y1="419.6" x2="190.4" y2="422.2" stroke="#000" stroke-width="1.1"/>
<text x="190.4" y="430.4" font-size="7.6" text-anchor="middle" font-weight="normal" fill="#000" transform="translate(0 0) scale(1 1)" stroke="#000" stroke-width="0.22">60</text>
<line x1="59.15" y1="419.6" x2="59.15" y2="421.2" stroke="#000" stroke-width="1.1"/>
<line x1="96.65" y1="419.6" x2="96.65" y2="421.2" stroke="#000" stroke-width="1.1"/>
<line x1="134.15" y1="419.6" x2="134.15" y2="421.2" stroke="#000" stroke-width="1.1"/>
<line x1="171.65" y1="419.6" x2="171.65" y2="421.2" stroke="#000" stroke-width="1.1"/>
<line x1="209.15" y1="419.6" x2="209.15" y2="421.2" stroke="#000" stroke-width="1.1"/>
<circle cx="155.8" cy="298" r="1.55" fill="#000"/>
<circle cx="126" cy="314.7" r="1.55" fill="#000"/>
<circle cx="150.9" cy="317.6" r="1.55" fill="#000"/>
<circle cx="107.6" cy="320.2" r="1.55" fill="#000"/>
<circle cx="109.9" cy="324" r="1.55" fill="#000"/>
<circle cx="162.1" cy="324.5" r="1.55" fill="#000"/>
<circle cx="135" cy="327.4" r="1.55" fill="#000"/>
<circle cx="105.3" cy="332.3" r="1.55" fill="#000"/>
<circle cx="109" cy="330.9" r="1.55" fill="#000"/>
<circle cx="130.4" cy="336" r="1.55" fill="#000"/>
<circle cx="93.8" cy="337.5" r="1.55" fill="#000"/>
<circle cx="94.6" cy="341.8" r="1.55" fill="#000"/>
<circle cx="100.4" cy="344.4" r="1.55" fill="#000"/>
<circle cx="176.8" cy="343.3" r="1.55" fill="#000"/>
<circle cx="86.5" cy="350.2" r="1.55" fill="#000"/>
<circle cx="133" cy="359.4" r="1.55" fill="#000"/>
<circle cx="112.5" cy="362.9" r="1.55" fill="#000"/>
<circle cx="92.6" cy="374.7" r="1.55" fill="#000"/>
<circle cx="103.3" cy="375.6" r="1.55" fill="#000"/>
<circle cx="83.1" cy="382" r="1.55" fill="#000"/>
<circle cx="86" cy="384.2" r="1.55" fill="#000"/>
<circle cx="108.2" cy="381.3" r="1.55" fill="#000"/>
<circle cx="97.8" cy="387.1" r="1.55" fill="#000"/>
<circle cx="120.6" cy="390.3" r="1.55" fill="#000"/>
<circle cx="79" cy="391.7" r="1.55" fill="#000"/>
<circle cx="88" cy="391.4" r="1.55" fill="#000"/>
<circle cx="81.3" cy="395.2" r="1.55" fill="#000"/>
<circle cx="88.8" cy="409.6" r="1.55" fill="#000"/>
<line x1="79" y1="378.2" x2="175.7" y2="308.7" stroke="#000" stroke-width="1.2"/>
<text x="148" y="398.6" font-size="7.2" text-anchor="start" font-weight="normal" fill="#000" transform="translate(0 0) scale(1 1)" stroke="#000" stroke-width="0.22">R<tspan font-size="5" dy="-2.6">2</tspan><tspan dy="2.6">=0.38, </tspan><tspan font-weight="bold">p&lt;0.001</tspan></text>
<text x="134" y="441.7" font-size="7.25" text-anchor="middle" font-weight="normal" fill="#000" transform="translate(0 0) scale(1 1)" stroke="#000" stroke-width="0.22">Suppression of CD69 Expression at 7h (%)</text>
<text x="0" y="0" font-size="7.35" text-anchor="middle" font-weight="normal" fill="#000" transform="translate(34.8 342.5) rotate(-90) scale(1 1)" stroke="#000" stroke-width="0.22">Suppression of Proliferation at 96h (%)</text>
<line x1="308.4" y1="270" x2="308.4" y2="419.6" stroke="#000" stroke-width="1.1"/>
<line x1="308.4" y1="401.3" x2="305.8" y2="401.3" stroke="#000" stroke-width="1.1"/>
<text x="305.4" y="404" font-size="7.6" text-anchor="end" font-weight="normal" fill="#000" transform="translate(0 0) scale(1 1)" stroke="#000" stroke-width="0.22">0</text>
<line x1="308.4" y1="363.8" x2="305.8" y2="363.8" stroke="#000" stroke-width="1.1"/>
<text x="305.4" y="366.5" font-size="7.6" text-anchor="end" font-weight="normal" fill="#000" transform="translate(0 0) scale(1 1)" stroke="#000" stroke-width="0.22">20</text>
<line x1="308.4" y1="326.3" x2="305.8" y2="326.3" stroke="#000" stroke-width="1.1"/>
<text x="305.4" y="329" font-size="7.6" text-anchor="end" font-weight="normal" fill="#000" transform="translate(0 0) scale(1 1)" stroke="#000" stroke-width="0.22">40</text>
<line x1="308.4" y1="288.8" x2="305.8" y2="288.8" stroke="#000" stroke-width="1.1"/>
<text x="305.4" y="291.5" font-size="7.6" text-anchor="end" font-weight="normal" fill="#000" transform="translate(0 0) scale(1 1)" stroke="#000" stroke-width="0.22">60</text>
<line x1="308.4" y1="420.05" x2="306.8" y2="420.05" stroke="#000" stroke-width="1.1"/>
<line x1="308.4" y1="382.55" x2="306.8" y2="382.55" stroke="#000" stroke-width="1.1"/>
<line x1="308.4" y1="345.05" x2="306.8" y2="345.05" stroke="#000" stroke-width="1.1"/>
<line x1="308.4" y1="307.55" x2="306.8" y2="307.55" stroke="#000" stroke-width="1.1"/>
<line x1="308.4" y1="270.05" x2="306.8" y2="270.05" stroke="#000" stroke-width="1.1"/>
<line x1="308.4" y1="419.6" x2="458.7" y2="419.6" stroke="#000" stroke-width="1.1"/>
<line x1="326.6" y1="419.6" x2="326.6" y2="422.2" stroke="#000" stroke-width="1.1"/>
<text x="326.6" y="430.4" font-size="7.6" text-anchor="middle" font-weight="normal" fill="#000" transform="translate(0 0) scale(1 1)" stroke="#000" stroke-width="0.22">0</text>
<line x1="364.3" y1="419.6" x2="364.3" y2="422.2" stroke="#000" stroke-width="1.1"/>
<text x="364.3" y="430.4" font-size="7.6" text-anchor="middle" font-weight="normal" fill="#000" transform="translate(0 0) scale(1 1)" stroke="#000" stroke-width="0.22">20</text>
<line x1="402" y1="419.6" x2="402" y2="422.2" stroke="#000" stroke-width="1.1"/>
<text x="402" y="430.4" font-size="7.6" text-anchor="middle" font-weight="normal" fill="#000" transform="translate(0 0) scale(1 1)" stroke="#000" stroke-width="0.22">40</text>
<line x1="439.7" y1="419.6" x2="439.7" y2="422.2" stroke="#000" stroke-width="1.1"/>
<text x="439.7" y="430.4" font-size="7.6" text-anchor="middle" font-weight="normal" fill="#000" transform="translate(0 0) scale(1 1)" stroke="#000" stroke-width="0.22">60</text>
<line x1="307.75" y1="419.6" x2="307.75" y2="421.2" stroke="#000" stroke-width="1.1"/>
<line x1="345.45" y1="419.6" x2="345.45" y2="421.2" stroke="#000" stroke-width="1.1"/>
<line x1="383.15" y1="419.6" x2="383.15" y2="421.2" stroke="#000" stroke-width="1.1"/>
<line x1="420.85" y1="419.6" x2="420.85" y2="421.2" stroke="#000" stroke-width="1.1"/>
<line x1="458.55" y1="419.6" x2="458.55" y2="421.2" stroke="#000" stroke-width="1.1"/>
<circle cx="404.8" cy="280.1" r="1.55" fill="#000"/>
<circle cx="411.1" cy="289.9" r="1.55" fill="#000"/>
<circle cx="399.9" cy="291.9" r="1.55" fill="#000"/>
<circle cx="358.6" cy="298.3" r="1.55" fill="#000"/>
<circle cx="375.3" cy="302.3" r="1.55" fill="#000"/>
<circle cx="379.4" cy="307.5" r="1.55" fill="#000"/>
<circle cx="357.2" cy="311.5" r="1.55" fill="#000"/>
<circle cx="358" cy="313.6" r="1.55" fill="#000"/>
<circle cx="343.9" cy="320.5" r="1.55" fill="#000"/>
<circle cx="354.3" cy="324.2" r="1.55" fill="#000"/>
<circle cx="384.3" cy="323.9" r="1.55" fill="#000"/>
<circle cx="425.8" cy="322.8" r="1.55" fill="#000"/>
<circle cx="335.8" cy="329.1" r="1.55" fill="#000"/>
<circle cx="343" cy="327.7" r="1.55" fill="#000"/>
<circle cx="349.4" cy="334" r="1.55" fill="#000"/>
<circle cx="361.5" cy="333.5" r="1.55" fill="#000"/>
<circle cx="335" cy="337.8" r="1.55" fill="#000"/>
<circle cx="382" cy="346.7" r="1.55" fill="#000"/>
<circle cx="352.3" cy="356" r="1.55" fill="#000"/>
<circle cx="341.6" cy="364.6" r="1.55" fill="#000"/>
<circle cx="361.8" cy="361.2" r="1.55" fill="#000"/>
<circle cx="369.9" cy="364.9" r="1.55" fill="#000"/>
<circle cx="332.1" cy="380.5" r="1.55" fill="#000"/>
<circle cx="347.1" cy="379" r="1.55" fill="#000"/>
<circle cx="357.5" cy="381.9" r="1.55" fill="#000"/>
<circle cx="328" cy="390.3" r="1.55" fill="#000"/>
<circle cx="337" cy="393.2" r="1.55" fill="#000"/>
<circle cx="330.3" cy="401.2" r="1.55" fill="#000"/>
<circle cx="337.8" cy="416" r="1.55" fill="#000"/>
<line x1="328.3" y1="370.4" x2="424.7" y2="282.1" stroke="#000" stroke-width="1.2"/>
<text x="397" y="398.6" font-size="7.2" text-anchor="start" font-weight="normal" fill="#000" transform="translate(0 0) scale(1 1)" stroke="#000" stroke-width="0.22">R<tspan font-size="5" dy="-2.6">2</tspan><tspan dy="2.6">=0.41, </tspan><tspan font-weight="bold">p&lt;0.001</tspan></text>
<text x="383.5" y="441.7" font-size="7.25" text-anchor="middle" font-weight="normal" fill="#000" transform="translate(0 0) scale(1 1)" stroke="#000" stroke-width="0.22">Suppression of CD154 Expression at 7h (%)</text>
<text x="0" y="0" font-size="7.35" text-anchor="middle" font-weight="normal" fill="#000" transform="translate(282.6 342.5) rotate(-90) scale(1 1)" stroke="#000" stroke-width="0.22">Suppression of Proliferation at 96h (%)</text>
<line x1="59.3" y1="472.7" x2="59.3" y2="622.1" stroke="#000" stroke-width="1.1"/>
<line x1="59.3" y1="622.1" x2="56.7" y2="622.1" stroke="#000" stroke-width="1.1"/>
<text x="56.3" y="624.8" font-size="7.6" text-anchor="end" font-weight="normal" fill="#000" transform="translate(0 0) scale(1 1)" stroke="#000" stroke-width="0.22">0</text>
<line x1="59.3" y1="592.22" x2="56.7" y2="592.22" stroke="#000" stroke-width="1.1"/>
<text x="56.3" y="594.92" font-size="7.6" text-anchor="end" font-weight="normal" fill="#000" transform="translate(0 0) scale(1 1)" stroke="#000" stroke-width="0.22">20</text>
<line x1="59.3" y1="562.34" x2="56.7" y2="562.34" stroke="#000" stroke-width="1.1"/>
<text x="56.3" y="565.04" font-size="7.6" text-anchor="end" font-weight="normal" fill="#000" transform="translate(0 0) scale(1 1)" stroke="#000" stroke-width="0.22">40</text>
<line x1="59.3" y1="532.46" x2="56.7" y2="532.46" stroke="#000" stroke-width="1.1"/>
<text x="56.3" y="535.16" font-size="7.6" text-anchor="end" font-weight="normal" fill="#000" transform="translate(0 0) scale(1 1)" stroke="#000" stroke-width="0.22">60</text>
<line x1="59.3" y1="502.58" x2="56.7" y2="502.58" stroke="#000" stroke-width="1.1"/>
<text x="56.3" y="505.28" font-size="7.6" text-anchor="end" font-weight="normal" fill="#000" transform="translate(0 0) scale(1 1)" stroke="#000" stroke-width="0.22">80</text>
<line x1="59.3" y1="472.7" x2="56.7" y2="472.7" stroke="#000" stroke-width="1.1"/>
<text x="56.3" y="475.4" font-size="7.6" text-anchor="end" font-weight="normal" fill="#000" transform="translate(0 0) scale(1 1)" stroke="#000" stroke-width="0.22">100</text>
<line x1="59.3" y1="607.16" x2="57.7" y2="607.16" stroke="#000" stroke-width="1.1"/>
<line x1="59.3" y1="577.28" x2="57.7" y2="577.28" stroke="#000" stroke-width="1.1"/>
<line x1="59.3" y1="547.4" x2="57.7" y2="547.4" stroke="#000" stroke-width="1.1"/>
<line x1="59.3" y1="517.52" x2="57.7" y2="517.52" stroke="#000" stroke-width="1.1"/>
<line x1="59.3" y1="487.64" x2="57.7" y2="487.64" stroke="#000" stroke-width="1.1"/>
<line x1="59.3" y1="622.1" x2="208.7" y2="622.1" stroke="#000" stroke-width="1.1"/>
<line x1="59.3" y1="622.1" x2="59.3" y2="624.7" stroke="#000" stroke-width="1.1"/>
<text x="59.3" y="632.2" font-size="7.6" text-anchor="middle" font-weight="normal" fill="#000" transform="translate(0 0) scale(1 1)" stroke="#000" stroke-width="0.22">0</text>
<line x1="89.18" y1="622.1" x2="89.18" y2="624.7" stroke="#000" stroke-width="1.1"/>
<text x="89.18" y="632.2" font-size="7.6" text-anchor="middle" font-weight="normal" fill="#000" transform="translate(0 0) scale(1 1)" stroke="#000" stroke-width="0.22">20</text>
<line x1="119.06" y1="622.1" x2="119.06" y2="624.7" stroke="#000" stroke-width="1.1"/>
<text x="119.06" y="632.2" font-size="7.6" text-anchor="middle" font-weight="normal" fill="#000" transform="translate(0 0) scale(1 1)" stroke="#000" stroke-width="0.22">40</text>
<line x1="148.94" y1="622.1" x2="148.94" y2="624.7" stroke="#000" stroke-width="1.1"/>
<text x="148.94" y="632.2" font-size="7.6" text-anchor="middle" font-weight="normal" fill="#000" transform="translate(0 0) scale(1 1)" stroke="#000" stroke-width="0.22">60</text>
<line x1="178.82" y1="622.1" x2="178.82" y2="624.7" stroke="#000" stroke-width="1.1"/>
<text x="178.82" y="632.2" font-size="7.6" text-anchor="middle" font-weight="normal" fill="#000" transform="translate(0 0) scale(1 1)" stroke="#000" stroke-width="0.22">80</text>
<line x1="208.7" y1="622.1" x2="208.7" y2="624.7" stroke="#000" stroke-width="1.1"/>
<text x="208.7" y="632.2" font-size="7.6" text-anchor="middle" font-weight="normal" fill="#000" transform="translate(0 0) scale(1 1)" stroke="#000" stroke-width="0.22">100</text>
<line x1="74.24" y1="622.1" x2="74.24" y2="623.7" stroke="#000" stroke-width="1.1"/>
<line x1="104.12" y1="622.1" x2="104.12" y2="623.7" stroke="#000" stroke-width="1.1"/>
<line x1="134" y1="622.1" x2="134" y2="623.7" stroke="#000" stroke-width="1.1"/>
<line x1="163.88" y1="622.1" x2="163.88" y2="623.7" stroke="#000" stroke-width="1.1"/>
<line x1="193.76" y1="622.1" x2="193.76" y2="623.7" stroke="#000" stroke-width="1.1"/>
<line x1="59.3" y1="622.1" x2="208.7" y2="472.7" stroke="#000" stroke-width="0.9"/>
<polyline points="59.3,622.1 65.57,622.1 65.57,600.44 72.45,600.44 72.45,579.22 85.15,579.22 85.15,536.49 98.89,536.49 98.89,516.03 111.44,516.03 111.44,493.62 123.39,493.62 123.39,472.7 208.7,472.7" fill="none" stroke="#000" stroke-width="1.2" stroke-linejoin="miter" stroke-dasharray="1.2,2.1"/>
<polyline points="59.3,622.1 59.3,524.24 80.51,524.24 80.51,485.25 123.84,485.25 123.84,472.7 208.7,472.7" fill="none" stroke="#000" stroke-width="1.3" stroke-linejoin="miter" stroke-dasharray="3.2,2.0"/>
<polyline points="59.3,622.1 69.16,622.1 69.16,542.47 79.17,542.47 79.17,532.46 98.89,532.46 98.89,522.15 119.51,522.15 119.51,491.97 139.38,491.97 139.38,482.26 169.56,482.26 169.56,472.7 208.7,472.7" fill="none" stroke="#000" stroke-width="1.3" stroke-linejoin="miter"/>
<line x1="115.9" y1="574.7" x2="125.9" y2="574.7" stroke="#000" stroke-width="1.3" stroke-dasharray="3.2,2.0"/>
<line x1="115.9" y1="588" x2="125.9" y2="588" stroke="#000" stroke-width="1.3"/>
<line x1="115.9" y1="601.5" x2="125.9" y2="601.5" stroke="#000" stroke-width="1.2" stroke-dasharray="1.2,2.1"/>
<line x1="115.9" y1="614.3" x2="125.9" y2="614.3" stroke="#000" stroke-width="0.9"/>
<text x="129.3" y="544.72" font-size="7.3" text-anchor="start" font-weight="normal" fill="#000" transform="translate(0 0) scale(1 1.06)" stroke="#000" stroke-width="0.22">CFSE &gt;7.4%. AUC=0.93<tspan font-size="5" dy="-2.8">††</tspan></text>
<text x="129.3" y="557.26" font-size="7.3" text-anchor="start" font-weight="normal" fill="#000" transform="translate(0 0) scale(1 1.06)" stroke="#000" stroke-width="0.22">CFSE &gt;15.8%. AUC=0.77<tspan font-size="5" dy="-2.8">†</tspan></text>
<text x="129.3" y="570" font-size="7.3" text-anchor="start" font-weight="normal" fill="#000" transform="translate(0 0) scale(1 1.06)" stroke="#000" stroke-width="0.22">CFSE &gt;26.4%. AUC=0.78<tspan font-size="5" dy="-2.8">††</tspan></text>
<text x="128.7" y="582.08" font-size="7.3" text-anchor="start" font-weight="normal" fill="#000" transform="translate(0 0) scale(1 1.06)" stroke="#000" stroke-width="0.22">Line of Identity</text>
<text x="134.4" y="644.3" font-size="7.05" text-anchor="middle" font-weight="normal" fill="#000" transform="translate(0 0) scale(1 1)" stroke="#000" stroke-width="0.22">1-Specificity (%)</text>
<text x="0" y="0" font-size="7.2" text-anchor="middle" font-weight="normal" fill="#000" transform="translate(35 545.2) rotate(-90) scale(1 1)" stroke="#000" stroke-width="0.22">Sensitivity (%)</text>
<line x1="308.4" y1="472.3" x2="308.4" y2="622.1" stroke="#000" stroke-width="1.1"/>
<line x1="308.4" y1="622.1" x2="305.8" y2="622.1" stroke="#000" stroke-width="1.1"/>
<text x="305.4" y="624.8" font-size="7.6" text-anchor="end" font-weight="normal" fill="#000" transform="translate(0 0) scale(1 1)" stroke="#000" stroke-width="0.22">0</text>
<line x1="308.4" y1="592.14" x2="305.8" y2="592.14" stroke="#000" stroke-width="1.1"/>
<text x="305.4" y="594.84" font-size="7.6" text-anchor="end" font-weight="normal" fill="#000" transform="translate(0 0) scale(1 1)" stroke="#000" stroke-width="0.22">20</text>
<line x1="308.4" y1="562.18" x2="305.8" y2="562.18" stroke="#000" stroke-width="1.1"/>
<text x="305.4" y="564.88" font-size="7.6" text-anchor="end" font-weight="normal" fill="#000" transform="translate(0 0) scale(1 1)" stroke="#000" stroke-width="0.22">40</text>
<line x1="308.4" y1="532.22" x2="305.8" y2="532.22" stroke="#000" stroke-width="1.1"/>
<text x="305.4" y="534.92" font-size="7.6" text-anchor="end" font-weight="normal" fill="#000" transform="translate(0 0) scale(1 1)" stroke="#000" stroke-width="0.22">60</text>
<line x1="308.4" y1="502.26" x2="305.8" y2="502.26" stroke="#000" stroke-width="1.1"/>
<text x="305.4" y="504.96" font-size="7.6" text-anchor="end" font-weight="normal" fill="#000" transform="translate(0 0) scale(1 1)" stroke="#000" stroke-width="0.22">80</text>
<line x1="308.4" y1="472.3" x2="305.8" y2="472.3" stroke="#000" stroke-width="1.1"/>
<text x="305.4" y="475" font-size="7.6" text-anchor="end" font-weight="normal" fill="#000" transform="translate(0 0) scale(1 1)" stroke="#000" stroke-width="0.22">100</text>
<line x1="308.4" y1="607.12" x2="306.8" y2="607.12" stroke="#000" stroke-width="1.1"/>
<line x1="308.4" y1="577.16" x2="306.8" y2="577.16" stroke="#000" stroke-width="1.1"/>
<line x1="308.4" y1="547.2" x2="306.8" y2="547.2" stroke="#000" stroke-width="1.1"/>
<line x1="308.4" y1="517.24" x2="306.8" y2="517.24" stroke="#000" stroke-width="1.1"/>
<line x1="308.4" y1="487.28" x2="306.8" y2="487.28" stroke="#000" stroke-width="1.1"/>
<line x1="308.4" y1="622.1" x2="458.5" y2="622.1" stroke="#000" stroke-width="1.1"/>
<line x1="308.4" y1="622.1" x2="308.4" y2="624.7" stroke="#000" stroke-width="1.1"/>
<text x="308.4" y="632.2" font-size="7.6" text-anchor="middle" font-weight="normal" fill="#000" transform="translate(0 0) scale(1 1)" stroke="#000" stroke-width="0.22">0</text>
<line x1="338.42" y1="622.1" x2="338.42" y2="624.7" stroke="#000" stroke-width="1.1"/>
<text x="338.42" y="632.2" font-size="7.6" text-anchor="middle" font-weight="normal" fill="#000" transform="translate(0 0) scale(1 1)" stroke="#000" stroke-width="0.22">20</text>
<line x1="368.44" y1="622.1" x2="368.44" y2="624.7" stroke="#000" stroke-width="1.1"/>
<text x="368.44" y="632.2" font-size="7.6" text-anchor="middle" font-weight="normal" fill="#000" transform="translate(0 0) scale(1 1)" stroke="#000" stroke-width="0.22">40</text>
<line x1="398.46" y1="622.1" x2="398.46" y2="624.7" stroke="#000" stroke-width="1.1"/>
<text x="398.46" y="632.2" font-size="7.6" text-anchor="middle" font-weight="normal" fill="#000" transform="translate(0 0) scale(1 1)" stroke="#000" stroke-width="0.22">60</text>
<line x1="428.48" y1="622.1" x2="428.48" y2="624.7" stroke="#000" stroke-width="1.1"/>
<text x="428.48" y="632.2" font-size="7.6" text-anchor="middle" font-weight="normal" fill="#000" transform="translate(0 0) scale(1 1)" stroke="#000" stroke-width="0.22">80</text>
<line x1="458.5" y1="622.1" x2="458.5" y2="624.7" stroke="#000" stroke-width="1.1"/>
<text x="458.5" y="632.2" font-size="7.6" text-anchor="middle" font-weight="normal" fill="#000" transform="translate(0 0) scale(1 1)" stroke="#000" stroke-width="0.22">100</text>
<line x1="323.41" y1="622.1" x2="323.41" y2="623.7" stroke="#000" stroke-width="1.1"/>
<line x1="353.43" y1="622.1" x2="353.43" y2="623.7" stroke="#000" stroke-width="1.1"/>
<line x1="383.45" y1="622.1" x2="383.45" y2="623.7" stroke="#000" stroke-width="1.1"/>
<line x1="413.47" y1="622.1" x2="413.47" y2="623.7" stroke="#000" stroke-width="1.1"/>
<line x1="443.49" y1="622.1" x2="443.49" y2="623.7" stroke="#000" stroke-width="1.1"/>
<line x1="308.4" y1="622.1" x2="458.5" y2="472.3" stroke="#000" stroke-width="0.9"/>
<polyline points="308.4,622.1 312.45,622.1 312.45,601.13 315.6,601.13 315.6,557.69 329.41,557.69 329.41,536.26 348.93,536.26 348.93,493.12 388.4,493.12 388.4,472.3 458.5,472.3" fill="none" stroke="#000" stroke-width="1.2" stroke-linejoin="miter" stroke-dasharray="1.2,2.1"/>
<polyline points="308.4,622.1 308.4,530.72 329.41,530.72 329.41,517.24 351.93,517.24 351.93,478.29 374.44,478.29 374.44,472.3 458.5,472.3" fill="none" stroke="#000" stroke-width="1.3" stroke-linejoin="miter" stroke-dasharray="3.2,2.0"/>
<polyline points="308.4,622.1 308.4,612.06 318.31,612.06 318.31,541.96 329.41,541.96 329.41,521.73 359.43,521.73 359.43,511.25 379.7,511.25 379.7,501.81 390.05,501.81 390.05,491.62 400.26,491.62 400.26,481.59 420.52,481.59 420.52,472.3 458.5,472.3" fill="none" stroke="#000" stroke-width="1.3" stroke-linejoin="miter"/>
<line x1="365" y1="574.7" x2="375" y2="574.7" stroke="#000" stroke-width="1.3" stroke-dasharray="3.2,2.0"/>
<line x1="365" y1="588" x2="375" y2="588" stroke="#000" stroke-width="1.3"/>
<line x1="365" y1="601.5" x2="375" y2="601.5" stroke="#000" stroke-width="1.2" stroke-dasharray="1.2,2.1"/>
<line x1="365" y1="614.3" x2="375" y2="614.3" stroke="#000" stroke-width="0.9"/>
<text x="378.4" y="544.72" font-size="7.3" text-anchor="start" font-weight="normal" fill="#000" transform="translate(0 0) scale(1 1.06)" stroke="#000" stroke-width="0.22">CFSE &gt;7.4%. AUC=0.89<tspan font-size="5" dy="-2.8">††</tspan></text>
<text x="378.4" y="557.26" font-size="7.3" text-anchor="start" font-weight="normal" fill="#000" transform="translate(0 0) scale(1 1.06)" stroke="#000" stroke-width="0.22">CFSE &gt;15.8%. AUC=0.77<tspan font-size="5" dy="-2.8">†</tspan></text>
<text x="378.4" y="570" font-size="7.3" text-anchor="start" font-weight="normal" fill="#000" transform="translate(0 0) scale(1 1.06)" stroke="#000" stroke-width="0.22">CFSE &gt;26.4%. AUC=0.82<tspan font-size="5" dy="-2.8">††</tspan></text>
<text x="377.8" y="582.08" font-size="7.3" text-anchor="start" font-weight="normal" fill="#000" transform="translate(0 0) scale(1 1.06)" stroke="#000" stroke-width="0.22">Line of Identity</text>
<text x="383.5" y="644.3" font-size="7.05" text-anchor="middle" font-weight="normal" fill="#000" transform="translate(0 0) scale(1 1)" stroke="#000" stroke-width="0.22">1-Specificity (%)</text>
<text x="0" y="0" font-size="7.2" text-anchor="middle" font-weight="normal" fill="#000" transform="translate(284.1 545.2) rotate(-90) scale(1 1)" stroke="#000" stroke-width="0.22">Sensitivity (%)</text>
<line x1="59.4" y1="676.2" x2="59.4" y2="795.6" stroke="#000" stroke-width="1.1"/>
<line x1="59.4" y1="795.6" x2="56.8" y2="795.6" stroke="#000" stroke-width="1.1"/>
<text x="56.4" y="798.3" font-size="7.6" text-anchor="end" font-weight="normal" fill="#000" transform="translate(0 0) scale(1 1)" stroke="#000" stroke-width="0.22">0.0</text>
<line x1="59.4" y1="775.7" x2="56.8" y2="775.7" stroke="#000" stroke-width="1.1"/>
<text x="56.4" y="778.4" font-size="7.6" text-anchor="end" font-weight="normal" fill="#000" transform="translate(0 0) scale(1 1)" stroke="#000" stroke-width="0.22">0.1</text>
<line x1="59.4" y1="755.8" x2="56.8" y2="755.8" stroke="#000" stroke-width="1.1"/>
<text x="56.4" y="758.5" font-size="7.6" text-anchor="end" font-weight="normal" fill="#000" transform="translate(0 0) scale(1 1)" stroke="#000" stroke-width="0.22">0.2</text>
<line x1="59.4" y1="735.9" x2="56.8" y2="735.9" stroke="#000" stroke-width="1.1"/>
<text x="56.4" y="738.6" font-size="7.6" text-anchor="end" font-weight="normal" fill="#000" transform="translate(0 0) scale(1 1)" stroke="#000" stroke-width="0.22">0.3</text>
<line x1="59.4" y1="716" x2="56.8" y2="716" stroke="#000" stroke-width="1.1"/>
<text x="56.4" y="718.7" font-size="7.6" text-anchor="end" font-weight="normal" fill="#000" transform="translate(0 0) scale(1 1)" stroke="#000" stroke-width="0.22">0.4</text>
<line x1="59.4" y1="696.1" x2="56.8" y2="696.1" stroke="#000" stroke-width="1.1"/>
<text x="56.4" y="698.8" font-size="7.6" text-anchor="end" font-weight="normal" fill="#000" transform="translate(0 0) scale(1 1)" stroke="#000" stroke-width="0.22">0.5</text>
<line x1="59.4" y1="676.2" x2="56.8" y2="676.2" stroke="#000" stroke-width="1.1"/>
<text x="56.4" y="678.9" font-size="7.6" text-anchor="end" font-weight="normal" fill="#000" transform="translate(0 0) scale(1 1)" stroke="#000" stroke-width="0.22">0.6</text>
<line x1="59.4" y1="785.65" x2="57.8" y2="785.65" stroke="#000" stroke-width="1.1"/>
<line x1="59.4" y1="765.75" x2="57.8" y2="765.75" stroke="#000" stroke-width="1.1"/>
<line x1="59.4" y1="745.85" x2="57.8" y2="745.85" stroke="#000" stroke-width="1.1"/>
<line x1="59.4" y1="725.95" x2="57.8" y2="725.95" stroke="#000" stroke-width="1.1"/>
<line x1="59.4" y1="706.05" x2="57.8" y2="706.05" stroke="#000" stroke-width="1.1"/>
<line x1="59.4" y1="686.15" x2="57.8" y2="686.15" stroke="#000" stroke-width="1.1"/>
<line x1="59.4" y1="795.6" x2="238.7" y2="795.6" stroke="#000" stroke-width="1.1"/>
<line x1="59.4" y1="795.6" x2="59.4" y2="798.2" stroke="#000" stroke-width="1.1"/>
<text x="59.4" y="806" font-size="7.6" text-anchor="middle" font-weight="normal" fill="#000" transform="translate(0 0) scale(1 1)" stroke="#000" stroke-width="0.22">0</text>
<line x1="89.28" y1="795.6" x2="89.28" y2="798.2" stroke="#000" stroke-width="1.1"/>
<text x="89.28" y="806" font-size="7.6" text-anchor="middle" font-weight="normal" fill="#000" transform="translate(0 0) scale(1 1)" stroke="#000" stroke-width="0.22">10</text>
<line x1="119.16" y1="795.6" x2="119.16" y2="798.2" stroke="#000" stroke-width="1.1"/>
<text x="119.16" y="806" font-size="7.6" text-anchor="middle" font-weight="normal" fill="#000" transform="translate(0 0) scale(1 1)" stroke="#000" stroke-width="0.22">20</text>
<line x1="149.04" y1="795.6" x2="149.04" y2="798.2" stroke="#000" stroke-width="1.1"/>
<text x="149.04" y="806" font-size="7.6" text-anchor="middle" font-weight="normal" fill="#000" transform="translate(0 0) scale(1 1)" stroke="#000" stroke-width="0.22">30</text>
<line x1="178.92" y1="795.6" x2="178.92" y2="798.2" stroke="#000" stroke-width="1.1"/>
<text x="178.92" y="806" font-size="7.6" text-anchor="middle" font-weight="normal" fill="#000" transform="translate(0 0) scale(1 1)" stroke="#000" stroke-width="0.22">40</text>
<line x1="208.8" y1="795.6" x2="208.8" y2="798.2" stroke="#000" stroke-width="1.1"/>
<text x="208.8" y="806" font-size="7.6" text-anchor="middle" font-weight="normal" fill="#000" transform="translate(0 0) scale(1 1)" stroke="#000" stroke-width="0.22">50</text>
<line x1="238.68" y1="795.6" x2="238.68" y2="798.2" stroke="#000" stroke-width="1.1"/>
<text x="238.68" y="806" font-size="7.6" text-anchor="middle" font-weight="normal" fill="#000" transform="translate(0 0) scale(1 1)" stroke="#000" stroke-width="0.22">60</text>
<line x1="74.34" y1="795.6" x2="74.34" y2="797.2" stroke="#000" stroke-width="1.1"/>
<line x1="104.22" y1="795.6" x2="104.22" y2="797.2" stroke="#000" stroke-width="1.1"/>
<line x1="134.1" y1="795.6" x2="134.1" y2="797.2" stroke="#000" stroke-width="1.1"/>
<line x1="163.98" y1="795.6" x2="163.98" y2="797.2" stroke="#000" stroke-width="1.1"/>
<line x1="193.86" y1="795.6" x2="193.86" y2="797.2" stroke="#000" stroke-width="1.1"/>
<line x1="223.74" y1="795.6" x2="223.74" y2="797.2" stroke="#000" stroke-width="1.1"/>
<line x1="238.7" y1="676.2" x2="238.7" y2="795.6" stroke="#000" stroke-width="1.1"/>
<line x1="238.7" y1="795.6" x2="241.3" y2="795.6" stroke="#000" stroke-width="1.1"/>
<text x="241.9" y="798.3" font-size="7.6" text-anchor="start" font-weight="normal" fill="#000" transform="translate(0 0) scale(1 1)" stroke="#000" stroke-width="0.22">0</text>
<line x1="238.7" y1="765.75" x2="241.3" y2="765.75" stroke="#000" stroke-width="1.1"/>
<text x="241.9" y="768.45" font-size="7.6" text-anchor="start" font-weight="normal" fill="#000" transform="translate(0 0) scale(1 1)" stroke="#000" stroke-width="0.22">50</text>
<line x1="238.7" y1="735.9" x2="241.3" y2="735.9" stroke="#000" stroke-width="1.1"/>
<text x="241.9" y="738.6" font-size="7.6" text-anchor="start" font-weight="normal" fill="#000" transform="translate(0 0) scale(1 1)" stroke="#000" stroke-width="0.22">100</text>
<line x1="238.7" y1="706.05" x2="241.3" y2="706.05" stroke="#000" stroke-width="1.1"/>
<text x="241.9" y="708.75" font-size="7.6" text-anchor="start" font-weight="normal" fill="#000" transform="translate(0 0) scale(1 1)" stroke="#000" stroke-width="0.22">150</text>
<line x1="238.7" y1="676.2" x2="241.3" y2="676.2" stroke="#000" stroke-width="1.1"/>
<text x="241.9" y="678.9" font-size="7.6" text-anchor="start" font-weight="normal" fill="#000" transform="translate(0 0) scale(1 1)" stroke="#000" stroke-width="0.22">200</text>
<line x1="238.7" y1="780.68" x2="240.3" y2="780.68" stroke="#000" stroke-width="1.1"/>
<line x1="238.7" y1="750.83" x2="240.3" y2="750.83" stroke="#000" stroke-width="1.1"/>
<line x1="238.7" y1="720.98" x2="240.3" y2="720.98" stroke="#000" stroke-width="1.1"/>
<line x1="238.7" y1="691.12" x2="240.3" y2="691.12" stroke="#000" stroke-width="1.1"/>
<polyline points="59.4,700.08 69.86,701.87 73.44,705.45 76.73,717.39 80.91,716.5 89.88,731.72 100.04,730.53 101.83,734.71 120.36,740.68 127.53,735.3 141.27,733.21 150.24,737.69 152.63,740.08 155.31,742.77 160.39,745.45 166.97,752.62 175.63,755 186.39,748.44 201.33,740.68 238.68,736.68" fill="none" stroke="#000" stroke-width="1.2" stroke-linejoin="miter" stroke-dasharray="3.2,2.0"/>
<polyline points="59.4,787.44 69.41,782.07 74.34,769.73 76.73,742.87 82.26,754.81 87.79,739.88 90.77,716 100.04,728.34 101.23,715.6 120.36,702.87 121.55,715.6 126.33,728.34 140.67,742.47 150.24,728.74 152.03,716 154.12,728.74 160.69,716 163.68,704.06 169.36,715.2 171.75,704.06 176.83,716 181.91,729.33 182.8,742.87 197.15,781.67 223.74,795.6" fill="none" stroke="#000" stroke-width="1.3" stroke-linejoin="miter"/>
<line x1="75.8" y1="683.8" x2="84.8" y2="683.8" stroke="#000" stroke-width="1.3"/>
<line x1="75.8" y1="693.5" x2="84.8" y2="693.5" stroke="#000" stroke-width="1.2" stroke-dasharray="3.8,1.4"/>
<text x="89.2" y="686.4" font-size="7.4" text-anchor="start" font-weight="normal" fill="#000" transform="translate(0 0) scale(1 1)" stroke="#000" stroke-width="0.22">Youden Index</text>
<text x="89.2" y="696.1" font-size="7.4" text-anchor="start" font-weight="normal" fill="#000" transform="translate(0 0) scale(1 1)" stroke="#000" stroke-width="0.22">Cost</text>
<text x="80.6" y="771.3" font-size="7.4" text-anchor="start" font-weight="normal" fill="#000" transform="translate(0 0) scale(1 1)" stroke="#000" stroke-width="0.22">Median: 28.7%</text>
<text x="80.6" y="780.5" font-size="7.4" text-anchor="start" font-weight="normal" fill="#000" transform="translate(0 0) scale(1 1)" stroke="#000" stroke-width="0.22">LQ: 9.9%</text>
<text x="80.6" y="789.7" font-size="7.4" text-anchor="start" font-weight="normal" fill="#000" transform="translate(0 0) scale(1 1)" stroke="#000" stroke-width="0.22">UQ: 39.6%</text>
<text x="148.5" y="817.6" font-size="7.3" text-anchor="middle" font-weight="normal" fill="#000" transform="translate(0 0) scale(1 1)" stroke="#000" stroke-width="0.22">Suppression of CD69 Expression (%)</text>
<text x="0" y="0" font-size="7.5" text-anchor="middle" font-weight="normal" fill="#000" transform="translate(33.4 733.9) rotate(-90) scale(1 1)" stroke="#000" stroke-width="0.22">Youden Index (Sens+Spec-1)</text>
<text x="0" y="0" font-size="7.5" text-anchor="middle" font-weight="normal" fill="#000" transform="translate(262.8 735.6) rotate(90) scale(1 1)" stroke="#000" stroke-width="0.22">Cost (Arbitrary Units)</text>
<line x1="308.8" y1="676.2" x2="308.8" y2="795.6" stroke="#000" stroke-width="1.1"/>
<line x1="308.8" y1="795.6" x2="306.2" y2="795.6" stroke="#000" stroke-width="1.1"/>
<text x="305.8" y="798.3" font-size="7.6" text-anchor="end" font-weight="normal" fill="#000" transform="translate(0 0) scale(1 1)" stroke="#000" stroke-width="0.22">0.0</text>
<line x1="308.8" y1="775.7" x2="306.2" y2="775.7" stroke="#000" stroke-width="1.1"/>
<text x="305.8" y="778.4" font-size="7.6" text-anchor="end" font-weight="normal" fill="#000" transform="translate(0 0) scale(1 1)" stroke="#000" stroke-width="0.22">0.1</text>
<line x1="308.8" y1="755.8" x2="306.2" y2="755.8" stroke="#000" stroke-width="1.1"/>
<text x="305.8" y="758.5" font-size="7.6" text-anchor="end" font-weight="normal" fill="#000" transform="translate(0 0) scale(1 1)" stroke="#000" stroke-width="0.22">0.2</text>
<line x1="308.8" y1="735.9" x2="306.2" y2="735.9" stroke="#000" stroke-width="1.1"/>
<text x="305.8" y="738.6" font-size="7.6" text-anchor="end" font-weight="normal" fill="#000" transform="translate(0 0) scale(1 1)" stroke="#000" stroke-width="0.22">0.3</text>
<line x1="308.8" y1="716" x2="306.2" y2="716" stroke="#000" stroke-width="1.1"/>
<text x="305.8" y="718.7" font-size="7.6" text-anchor="end" font-weight="normal" fill="#000" transform="translate(0 0) scale(1 1)" stroke="#000" stroke-width="0.22">0.4</text>
<line x1="308.8" y1="696.1" x2="306.2" y2="696.1" stroke="#000" stroke-width="1.1"/>
<text x="305.8" y="698.8" font-size="7.6" text-anchor="end" font-weight="normal" fill="#000" transform="translate(0 0) scale(1 1)" stroke="#000" stroke-width="0.22">0.5</text>
<line x1="308.8" y1="676.2" x2="306.2" y2="676.2" stroke="#000" stroke-width="1.1"/>
<text x="305.8" y="678.9" font-size="7.6" text-anchor="end" font-weight="normal" fill="#000" transform="translate(0 0) scale(1 1)" stroke="#000" stroke-width="0.22">0.6</text>
<line x1="308.8" y1="785.65" x2="307.2" y2="785.65" stroke="#000" stroke-width="1.1"/>
<line x1="308.8" y1="765.75" x2="307.2" y2="765.75" stroke="#000" stroke-width="1.1"/>
<line x1="308.8" y1="745.85" x2="307.2" y2="745.85" stroke="#000" stroke-width="1.1"/>
<line x1="308.8" y1="725.95" x2="307.2" y2="725.95" stroke="#000" stroke-width="1.1"/>
<line x1="308.8" y1="706.05" x2="307.2" y2="706.05" stroke="#000" stroke-width="1.1"/>
<line x1="308.8" y1="686.15" x2="307.2" y2="686.15" stroke="#000" stroke-width="1.1"/>
<line x1="308.8" y1="795.6" x2="487.6" y2="795.6" stroke="#000" stroke-width="1.1"/>
<line x1="308.8" y1="795.6" x2="308.8" y2="798.2" stroke="#000" stroke-width="1.1"/>
<text x="308.8" y="806" font-size="7.6" text-anchor="middle" font-weight="normal" fill="#000" transform="translate(0 0) scale(1 1)" stroke="#000" stroke-width="0.22">0</text>
<line x1="338.5" y1="795.6" x2="338.5" y2="798.2" stroke="#000" stroke-width="1.1"/>
<text x="338.5" y="806" font-size="7.6" text-anchor="middle" font-weight="normal" fill="#000" transform="translate(0 0) scale(1 1)" stroke="#000" stroke-width="0.22">10</text>
<line x1="368.2" y1="795.6" x2="368.2" y2="798.2" stroke="#000" stroke-width="1.1"/>
<text x="368.2" y="806" font-size="7.6" text-anchor="middle" font-weight="normal" fill="#000" transform="translate(0 0) scale(1 1)" stroke="#000" stroke-width="0.22">20</text>
<line x1="397.9" y1="795.6" x2="397.9" y2="798.2" stroke="#000" stroke-width="1.1"/>
<text x="397.9" y="806" font-size="7.6" text-anchor="middle" font-weight="normal" fill="#000" transform="translate(0 0) scale(1 1)" stroke="#000" stroke-width="0.22">30</text>
<line x1="427.6" y1="795.6" x2="427.6" y2="798.2" stroke="#000" stroke-width="1.1"/>
<text x="427.6" y="806" font-size="7.6" text-anchor="middle" font-weight="normal" fill="#000" transform="translate(0 0) scale(1 1)" stroke="#000" stroke-width="0.22">40</text>
<line x1="457.3" y1="795.6" x2="457.3" y2="798.2" stroke="#000" stroke-width="1.1"/>
<text x="457.3" y="806" font-size="7.6" text-anchor="middle" font-weight="normal" fill="#000" transform="translate(0 0) scale(1 1)" stroke="#000" stroke-width="0.22">50</text>
<line x1="487" y1="795.6" x2="487" y2="798.2" stroke="#000" stroke-width="1.1"/>
<text x="487" y="806" font-size="7.6" text-anchor="middle" font-weight="normal" fill="#000" transform="translate(0 0) scale(1 1)" stroke="#000" stroke-width="0.22">60</text>
<line x1="323.65" y1="795.6" x2="323.65" y2="797.2" stroke="#000" stroke-width="1.1"/>
<line x1="353.35" y1="795.6" x2="353.35" y2="797.2" stroke="#000" stroke-width="1.1"/>
<line x1="383.05" y1="795.6" x2="383.05" y2="797.2" stroke="#000" stroke-width="1.1"/>
<line x1="412.75" y1="795.6" x2="412.75" y2="797.2" stroke="#000" stroke-width="1.1"/>
<line x1="442.45" y1="795.6" x2="442.45" y2="797.2" stroke="#000" stroke-width="1.1"/>
<line x1="472.15" y1="795.6" x2="472.15" y2="797.2" stroke="#000" stroke-width="1.1"/>
<line x1="487.6" y1="676.2" x2="487.6" y2="795.6" stroke="#000" stroke-width="1.1"/>
<line x1="487.6" y1="795.6" x2="490.2" y2="795.6" stroke="#000" stroke-width="1.1"/>
<text x="490.8" y="798.3" font-size="7.6" text-anchor="start" font-weight="normal" fill="#000" transform="translate(0 0) scale(1 1)" stroke="#000" stroke-width="0.22">0</text>
<line x1="487.6" y1="765.75" x2="490.2" y2="765.75" stroke="#000" stroke-width="1.1"/>
<text x="490.8" y="768.45" font-size="7.6" text-anchor="start" font-weight="normal" fill="#000" transform="translate(0 0) scale(1 1)" stroke="#000" stroke-width="0.22">50</text>
<line x1="487.6" y1="735.9" x2="490.2" y2="735.9" stroke="#000" stroke-width="1.1"/>
<text x="490.8" y="738.6" font-size="7.6" text-anchor="start" font-weight="normal" fill="#000" transform="translate(0 0) scale(1 1)" stroke="#000" stroke-width="0.22">100</text>
<line x1="487.6" y1="706.05" x2="490.2" y2="706.05" stroke="#000" stroke-width="1.1"/>
<text x="490.8" y="708.75" font-size="7.6" text-anchor="start" font-weight="normal" fill="#000" transform="translate(0 0) scale(1 1)" stroke="#000" stroke-width="0.22">150</text>
<line x1="487.6" y1="676.2" x2="490.2" y2="676.2" stroke="#000" stroke-width="1.1"/>
<text x="490.8" y="678.9" font-size="7.6" text-anchor="start" font-weight="normal" fill="#000" transform="translate(0 0) scale(1 1)" stroke="#000" stroke-width="0.22">200</text>
<line x1="487.6" y1="780.68" x2="489.2" y2="780.68" stroke="#000" stroke-width="1.1"/>
<line x1="487.6" y1="750.83" x2="489.2" y2="750.83" stroke="#000" stroke-width="1.1"/>
<line x1="487.6" y1="720.98" x2="489.2" y2="720.98" stroke="#000" stroke-width="1.1"/>
<line x1="487.6" y1="691.12" x2="489.2" y2="691.12" stroke="#000" stroke-width="1.1"/>
<polyline points="308.8,707.96 326.32,718.41 338.5,716.02 343.25,727.36 366.12,724.97 367.61,728.14 381.56,732.91 394.93,731 405.62,734.71 415.42,740.68 422.25,745.51 428.49,753.39 430.87,753.99 433.54,751.42 436.51,756.38 447.2,753.99 461.16,747.54 487,738.59" fill="none" stroke="#000" stroke-width="1.2" stroke-linejoin="miter" stroke-dasharray="3.2,2.0"/>
<polyline points="308.8,768.54 321.27,755.2 326.62,742.67 338.5,755.8 343.85,729.53 366.42,742.67 367.01,728.74 372.36,742.07 381.56,729.13 395.82,742.67 409.48,729.53 415.42,716.2 416.61,729.13 423.15,716.6 425.52,702.27 430.87,689.93 433.24,716 437.4,702.87 448.98,716 451.36,728.94 459.08,744.66 466.21,756.4 472.45,769.33 482.84,783.06 486.7,795.6" fill="none" stroke="#000" stroke-width="1.3" stroke-linejoin="miter"/>
<line x1="325.2" y1="683.8" x2="334.2" y2="683.8" stroke="#000" stroke-width="1.3"/>
<line x1="325.2" y1="693.5" x2="334.2" y2="693.5" stroke="#000" stroke-width="1.2" stroke-dasharray="3.8,1.4"/>
<text x="338.6" y="686.4" font-size="7.4" text-anchor="start" font-weight="normal" fill="#000" transform="translate(0 0) scale(1 1)" stroke="#000" stroke-width="0.22">Youden Index</text>
<text x="338.6" y="696.1" font-size="7.4" text-anchor="start" font-weight="normal" fill="#000" transform="translate(0 0) scale(1 1)" stroke="#000" stroke-width="0.22">Cost</text>
<text x="328.1" y="771.3" font-size="7.4" text-anchor="start" font-weight="normal" fill="#000" transform="translate(0 0) scale(1 1)" stroke="#000" stroke-width="0.22">Median: 37.2%</text>
<text x="328.1" y="780.5" font-size="7.4" text-anchor="start" font-weight="normal" fill="#000" transform="translate(0 0) scale(1 1)" stroke="#000" stroke-width="0.22">LQ: 17.4%</text>
<text x="328.1" y="789.7" font-size="7.4" text-anchor="start" font-weight="normal" fill="#000" transform="translate(0 0) scale(1 1)" stroke="#000" stroke-width="0.22">UQ: 48.4%</text>
<text x="398" y="817.6" font-size="7.3" text-anchor="middle" font-weight="normal" fill="#000" transform="translate(0 0) scale(1 1)" stroke="#000" stroke-width="0.22">Suppression of CD154 Expression (%)</text>
<text x="0" y="0" font-size="7.5" text-anchor="middle" font-weight="normal" fill="#000" transform="translate(281.8 733.9) rotate(-90) scale(1 1)" stroke="#000" stroke-width="0.22">Youden Index (Sens+Spec-1)</text>
<text x="0" y="0" font-size="7.5" text-anchor="middle" font-weight="normal" fill="#000" transform="translate(512.5 735.6) rotate(90) scale(1 1)" stroke="#000" stroke-width="0.22">Cost (Arbitrary Units)</text>
</svg>
</body></html>
